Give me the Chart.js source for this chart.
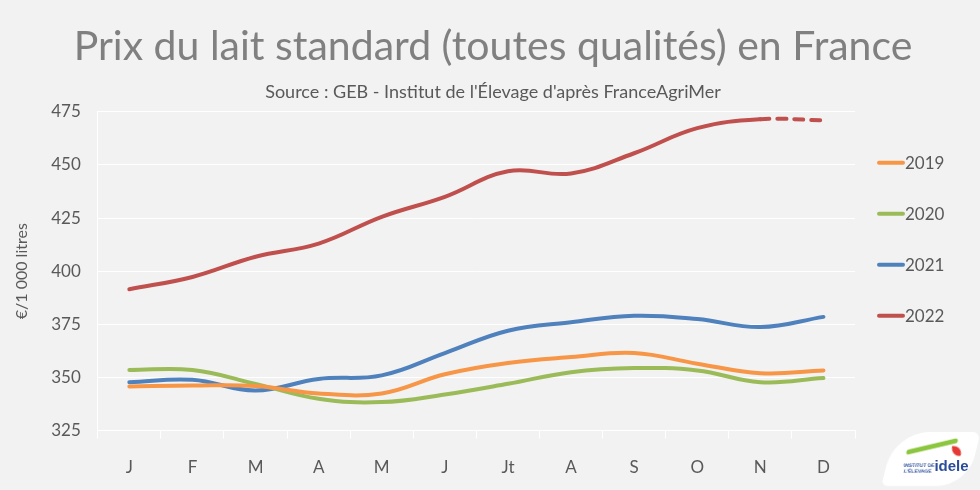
<!DOCTYPE html>
<html lang="fr">
<head>
<meta charset="utf-8">
<title>Prix du lait standard</title>
<script src="https://cdn.jsdelivr.net/npm/chart.js@4"></script>
<style>
    html, body { margin: 0; padding: 0; background: #f2f2f2; }
    #wrap { position: relative; width: 980px; height: 490px; }
    #logo {
        position: absolute; left: 888px; top: 432px; width: 86px; height: 54px;
        background: #fff; border-radius: 34px 8px 30px 6px; transform: skewX(-14deg);
    }
    #logo span {
        position: absolute; font-family: "Liberation Sans", sans-serif; transform: skewX(14deg);
    }
    #logo .small { left: 18px; top: 30px; font-size: 5px; line-height: 6px; color: #2b4c9b; font-weight: bold; }
    #logo .big { left: 48px; top: 25px; font-size: 15px; color: #2b4c9b; font-weight: bold; }
    #logo .swoosh { left: 16px; top: 12px; width: 50px; height: 5px; background: #8cc63f; border-radius: 6px; transform: rotate(-14deg); }
    #logo .drop { left: 62px; top: 14px; width: 9px; height: 10px; background: #e53935; border-radius: 0 8px 2px 8px; }
</style>
</head>
<body>
<div id="wrap">
    <canvas id="milkChart" width="980" height="490"></canvas>
    <div id="logo">
        <span class="swoosh"></span>
        <span class="drop"></span>
        <span class="small">INSTITUT DE<br>L'ÉLEVAGE</span>
        <span class="big">idele</span>
    </div>
</div>
<script>
// Data
const months = ['J', 'F', 'M', 'A', 'M', 'J', 'Jt', 'A', 'S', 'O', 'N', 'D'];
const years = ['2019', '2020', '2021', '2022'];
const prix2019 = [345.8, 346.2, 346.0, 342.5, 342.5, 351.5, 356.8, 359.6, 361.5, 356.5, 352.0, 353.3];
const prix2020 = [353.5, 353.5, 347.0, 340.0, 338.4, 342.0, 347.0, 352.5, 354.4, 353.3, 347.8, 349.7];
const prix2021 = [347.8, 348.9, 343.9, 349.3, 351.0, 361.5, 372.0, 376.0, 379.0, 377.5, 373.7, 378.5];
const prix2022 = [391.5, 397.3, 406.8, 413.0, 425.6, 435.0, 447.0, 446.0, 455.5, 467.3, 471.5, 471.0];
const yTicks = [325, 350, 375, 400, 425, 450, 475];

const colors = ['#F79646', '#9BBB59', '#4F81BD', '#C0504D'];
const textGrey = '#595959';
const fontFamily = "'Century Gothic', 'Lato', 'Open Sans', sans-serif";

// Legend on the right, drawn next to the plot area (line then label)
const sideLegend = {
    id: 'sideLegend',
    afterDraw(chart) {
        const ctx = chart.ctx;
        const area = chart.chartArea;
        const step = 51;
        ctx.save();
        ctx.font = '17px ' + fontFamily;
        ctx.textBaseline = 'middle';
        chart.data.datasets.forEach((ds, i) => {
            const x = area.right + 24;
            const y = area.top + step * (i + 1);
            ctx.strokeStyle = ds.borderColor;
            ctx.lineWidth = 4;
            ctx.lineCap = 'round';
            ctx.beginPath();
            ctx.moveTo(x, y);
            ctx.lineTo(x + 24, y);
            ctx.stroke();
            ctx.fillStyle = textGrey;
            ctx.fillText(ds.label, x + 26, y + 1);
        });
        ctx.restore();
    }
};

document.addEventListener('DOMContentLoaded', function() {
    initMilkChart();
});

function initMilkChart() {
    const ctx = document.getElementById('milkChart').getContext('2d');
    const series = [prix2019, prix2020, prix2021, prix2022];

    const datasets = series.map(function(values, i) {
        const ds = {
            label: years[i],
            data: values,
            borderColor: colors[i],
            backgroundColor: colors[i],
            borderWidth: 4,
            pointRadius: 0,
            pointHoverRadius: 0,
            tension: 0.4,
            borderCapStyle: 'round',
            fill: false
        };
        // last month of 2022 is an estimate: dashed
        if (years[i] === '2022') {
            ds.segment = {
                borderDash: c => c.p1DataIndex === values.length - 1 ? [9, 8] : undefined
            };
        }
        return ds;
    });

    new Chart(ctx, {
        type: 'line',
        data: { labels: months, datasets: datasets },
        plugins: [sideLegend],
        options: {
            responsive: false,
            animation: false,
            layout: { padding: { left: 12, right: 6, bottom: -7 } },
            plugins: {
                title: {
                    display: true,
                    text: 'Prix du lait standard (toutes qualités) en France',
                    color: '#808080',
                    font: { family: fontFamily, size: 41, weight: 'normal' },
                    padding: { top: 22, bottom: 10 }
                },
                subtitle: {
                    display: true,
                    text: "Source : GEB - Institut de l'Élevage d'après FranceAgriMer",
                    color: textGrey,
                    font: { family: fontFamily, size: 18 },
                    padding: { bottom: 9 }
                },
                legend: { display: false },
                tooltip: { enabled: false }
            },
            scales: {
                x: {
                    offset: true,
                    grid: {
                        display: true,
                        drawOnChartArea: false,
                        color: '#ffffff',
                        tickLength: 8,
                        offset: true
                    },
                    border: { color: '#ffffff' },
                    ticks: {
                        color: textGrey,
                        font: { family: fontFamily, size: 17 },
                        padding: 19
                    }
                },
                y: {
                    min: 325,
                    max: 475,
                    afterBuildTicks: function(axis) {
                        axis.ticks = yTicks.map(v => ({ value: v }));
                    },
                    grid: { color: '#ffffff', drawTicks: false },
                    border: { color: '#ffffff' },
                    ticks: {
                        color: textGrey,
                        font: { family: fontFamily, size: 17 },
                        padding: 17
                    },
                    title: {
                        display: true,
                        text: '€/1 000 litres',
                        color: textGrey,
                        font: { family: fontFamily, size: 16 },
                        padding: { top: 0, bottom: 3 }
                    }
                },
                // empty right axis: only reserves room for the legend
                legendSpace: {
                    position: 'right',
                    min: 325,
                    max: 475,
                    grid: { display: false },
                    border: { display: false },
                    ticks: { display: false },
                    afterFit: function(axis) {
                        axis.width = 119;
                    }
                }
            }
        }
    });
}
</script>
</body>
</html>
